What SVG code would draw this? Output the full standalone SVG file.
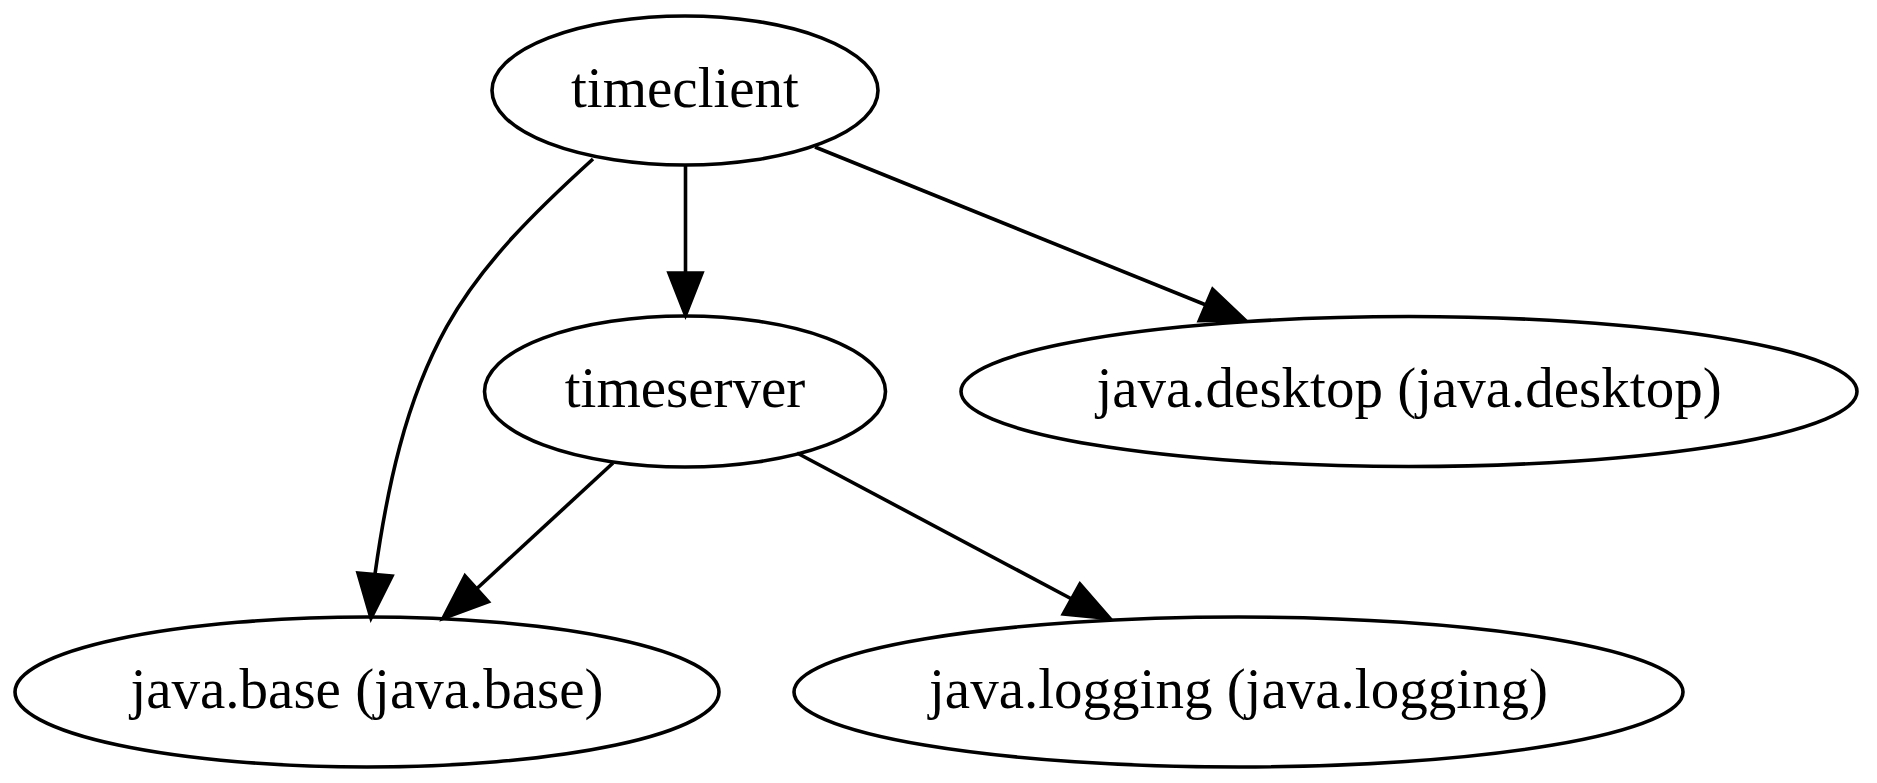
<svg xmlns="http://www.w3.org/2000/svg" width="1877" height="783" viewBox="0 0 1877 783">
<style>
.node ellipse{fill:none;stroke:#000;stroke-width:3.6}
.node text{font-family:"Liberation Serif","Times New Roman",serif;font-size:57px;text-anchor:middle;fill:#000}
.edge path{fill:none;stroke:#000;stroke-width:3.6}
.edge polygon{fill:#000;stroke:#000;stroke-width:3.6;stroke-linejoin:miter}
</style>
<rect width="1877" height="783" fill="#fff"/>
<g id="edges">
<g class="edge" id="e_timeclient_timeserver">
<path d="M685.5,166 L685.5,273"/>
<polygon points="669,273 702,273 685.5,315"/>
</g>
<g class="edge" id="e_timeclient_base">
<path d="M593,159 C538,209 482.7,262 446.7,326.7 C404.9,401.9 387,489 375,574"/>
<polygon points="358,573 392,576 371,618"/>
</g>
<g class="edge" id="e_timeclient_desktop">
<path d="M815,147 L1206,305"/>
<polygon points="1212.7,289.3 1199.3,320.7 1245,320"/>
</g>
<g class="edge" id="e_timeserver_base">
<path d="M613,463 L476.7,588.8"/>
<polygon points="465,576 488.3,601.7 443,618.5"/>
</g>
<g class="edge" id="e_timeserver_logging">
<path d="M797,453 L1071.7,599"/>
<polygon points="1080,584 1063.3,614 1110,618.5"/>
</g>
</g>
<g class="node" id="timeclient">
<ellipse cx="685" cy="90.5" rx="193" ry="74.5"/>
<text x="685" y="107">timeclient</text>
</g>
<g class="node" id="timeserver">
<ellipse cx="685" cy="391.5" rx="200.5" ry="75.5"/>
<text x="685" y="407">timeserver</text>
</g>
<g class="node" id="java.desktop">
<ellipse cx="1409" cy="391.5" rx="448" ry="75"/>
<text x="1409" y="407">java.desktop (java.desktop)</text>
</g>
<g class="node" id="java.base">
<ellipse cx="367" cy="692" rx="352" ry="75"/>
<text x="367" y="707.5">java.base (java.base)</text>
</g>
<g class="node" id="java.logging">
<ellipse cx="1238.5" cy="692" rx="444.5" ry="75"/>
<text x="1238.5" y="707.5">java.logging (java.logging)</text>
</g>
</svg>
